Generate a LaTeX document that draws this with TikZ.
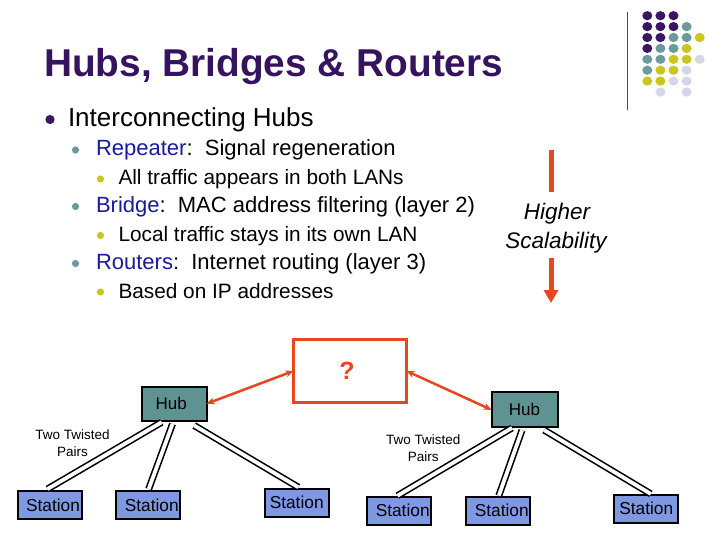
\documentclass[tikz,border=0pt]{standalone}
\usepackage{fontspec}
\setmainfont{Liberation Sans}
\usetikzlibrary{arrows.meta,calc}
\definecolor{ttl}{HTML}{36135F}
\definecolor{dotP}{HTML}{3C1464}
\definecolor{dotT}{HTML}{6A9A9B}
\definecolor{dotY}{HTML}{C9C61E}
\definecolor{dotL}{HTML}{D6D6E8}
\definecolor{kwblue}{HTML}{1A1AA0}
\definecolor{redo}{HTML}{E8461E}
\definecolor{hubteal}{HTML}{5F9392}
\definecolor{stblue}{HTML}{7E98E2}
\begin{document}
\begin{tikzpicture}[x=1pt,y=-1pt,
  every node/.style={inner sep=0pt,outer sep=0pt},
  station/.style={draw=black,line width=2pt,fill=stblue,minimum width=64pt,minimum height=28pt,font=\fontsize{17.3}{20}\selectfont},
  hub/.style={draw=black,line width=2pt,fill=hubteal,minimum width=65pt,minimum height=34pt,font=\fontsize{17}{20}\selectfont},
  twisted/.style={draw=black,line width=1.6pt,double=white,double distance=3.8pt},
  redarrow/.style={draw=redo,line width=2.5pt,{Stealth[length=8pt,width=7pt]}-{Stealth[length=8pt,width=7pt]}},
  pairs/.style={align=center,font=\fontsize{13.5}{17}\selectfont},
  lvlA/.style={anchor=base west,font=\fontsize{26}{30}\selectfont},
  lvlB/.style={anchor=base west,font=\fontsize{22}{26}\selectfont},
  lvlC/.style={anchor=base west,font=\fontsize{20.8}{24}\selectfont},
]
\useasboundingbox (0,0) rectangle (720,540);

% title
\node[anchor=base west,text=ttl,font=\bfseries\fontsize{38.8}{46}\selectfont] (title) at (44,76.7) {Hubs, Bridges \& Routers};

% corner decoration
\draw[line width=1pt,black!70] (627,12) -- (627,110);
\foreach \r/\row in {0/{P,P,P,N,N},1/{P,P,P,T,N},2/{P,P,T,T,Y},3/{P,T,T,Y,N},4/{T,T,Y,Y,L},5/{T,Y,Y,L,N},6/{Y,Y,L,L,N},7/{N,L,N,L,N}}{
  \foreach \c [count=\k from 0] in \row {
    \if\c N\else
      \fill[dot\c] ({647.3+13.1*\k},{15.7+10.9*\r}) ellipse (5pt and 4.6pt);
    \fi
  }
}

% bullets
\fill[dotP] (50,119.5) circle (4.6pt);
\node[lvlA] (l1) at (68,127) {Interconnecting Hubs};
\fill[dotT] (75.5,150) circle (3.6pt);
\node[lvlB] (l2) at (96,156) {\textcolor{kwblue}{Repeater}:\ \ Signal regeneration};
\fill[dotY] (100.5,179) circle (3.6pt);
\node[lvlC] (l3) at (118.5,185) {All traffic appears in both LANs};
\fill[dotT] (75.5,206.5) circle (3.6pt);
\node[lvlB] (l4) at (96,212.5) {\textcolor{kwblue}{Bridge}:\ \ MAC address filtering (layer 2)};
\fill[dotY] (100.5,235.5) circle (3.6pt);
\node[lvlC] (l5) at (118.5,241.5) {Local traffic stays in its own LAN};
\fill[dotT] (75.5,263.5) circle (3.6pt);
\node[lvlB] (l6) at (96,269.5) {\textcolor{kwblue}{Routers}:\ \ Internet routing (layer 3)};
\fill[dotY] (100.5,292) circle (3.6pt);
\node[lvlC] (l7) at (118.5,298) {Based on IP addresses};

% scalability
\node[anchor=base,font=\itshape\fontsize{22.5}{26}\selectfont] (hi1) at (557,220) {Higher};
\node[anchor=base,font=\itshape\fontsize{22.5}{26}\selectfont] (hi2) at (556,248.5) {Scalability};
\coordinate (barA1) at (551,150);
\coordinate (barA2) at (551,192);
\coordinate (barB1) at (551,258);
\coordinate (barB2) at (551,303);
\draw[redo,line width=5pt] (barA1) -- (barA2);
\draw[redo,line width=5pt,-{Triangle[length=13pt,width=14pt]}] (barB1) -- (barB2);

% question box
\node[draw=redo,line width=3pt,minimum width=113pt,minimum height=63pt,text=redo,font=\bfseries\fontsize{25}{30}\selectfont] (q) at (350,371) {\hspace*{-6pt}?};

% hubs
\node[hub] (hubL) at (174.2,403.7) {\hspace*{-6pt}Hub};
\node[hub,minimum width=66pt,minimum height=35pt] (hubR) at (524.5,409.8) {Hub};

\draw[redarrow] (q.west) -- (hubL.east);
\draw[redarrow] (q.east) -- (hubR.west);

% stations
\node[station] (s1) at (49.5,505) {\hspace*{7pt}Station};
\node[station] (s2) at (148.3,505) {\hspace*{7pt}Station};
\node[station] (s3) at (296.7,502.5) {Station};
\node[station] (s4) at (399.2,510.8) {\hspace*{7pt}Station};
\node[station] (s5) at (498.3,510.8) {\hspace*{7pt}Station};
\node[station] (s6) at (646.3,508.5) {Station};

% twisted pairs
\draw[twisted] ($(hubL.south)+(-12.5,1.5)$) -- ($(s1.north)+(-2,-2)$);
\draw[twisted] ($(hubL.south)+(-1.7,3.3)$) -- ($(s2.north)+(0.4,-2)$);
\draw[twisted] ($(hubL.south)+(20,4.8)$) -- ($(s3.north)+(1.6,-1.3)$);
\draw[twisted] ($(hubR.south)+(-12.5,0.6)$) -- ($(s4.north)+(-1.7,-1.1)$);
\draw[twisted] ($(hubR.south)+(-2.5,3)$) -- ($(s5.north)+(0.5,-1.1)$);
\draw[twisted] ($(hubR.south)+(19.7,2.8)$) -- ($(s6.north)+(4.5,-0.6)$);

\node[pairs] (tpL) at (72.5,443) {Two Twisted\\Pairs};
\node[pairs] (tpR) at (423.3,448.3) {Two Twisted\\Pairs};
\end{tikzpicture}
\end{document}
